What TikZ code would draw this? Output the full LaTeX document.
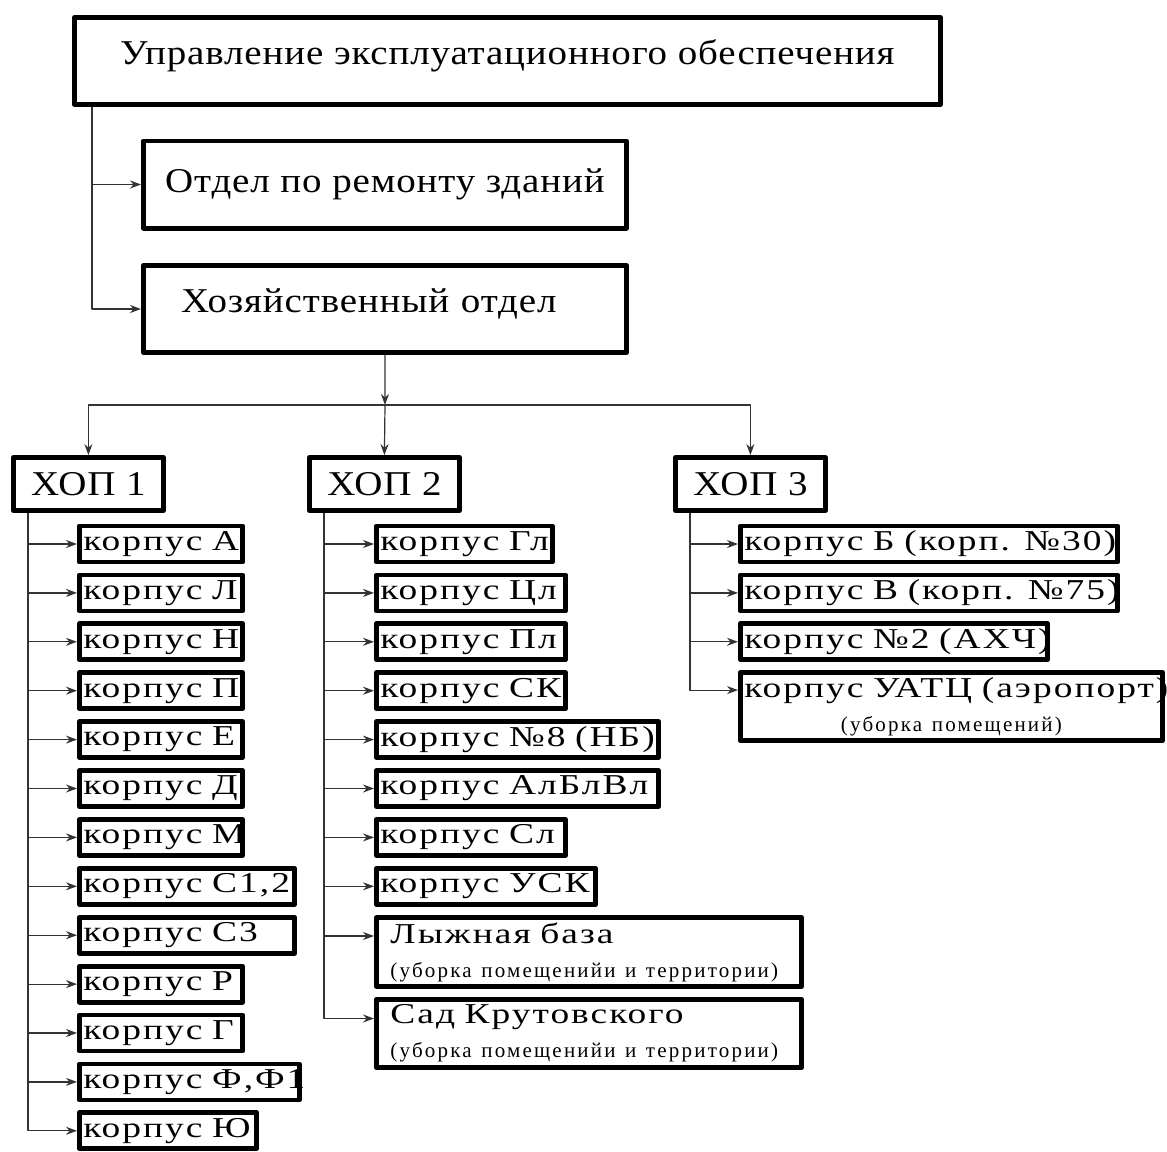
\documentclass[tikz,border=0pt]{standalone}
\usepackage{fontspec}
\usetikzlibrary{arrows.meta}
\setmainfont{Liberation Serif}
\newfontfamily\titfam{Liberation Serif}[FakeStretch=1.12,LetterSpace=2.5]
\newfontfamily\korpfam{Liberation Serif}[FakeStretch=1.3,LetterSpace=7,WordSpace=1.4]
\newfontfamily\notefam{Liberation Serif}[LetterSpace=10.5]
\newcommand\titfont{\titfam\fontsize{17.4}{21}\selectfont}
\newcommand\korpfont{\korpfam\fontsize{14.4}{17}\selectfont}
\newcommand\notefont{\notefam\fontsize{10.5}{12}\selectfont}
\tikzset{
  box/.style={draw,line width=2.4pt,inner sep=2pt,anchor=west},
  head/.style={box,font=\titfont,minimum width=#1,minimum height=43.6pt},
  hop/.style={box,font=\titfont,minimum width=75pt,minimum height=26.5pt},
  korp/.style={box,font=\korpfont,text width=#1-4pt,align=left,minimum height=18pt,
    execute at begin node=\hbox\bgroup,execute at end node=\egroup},
  wide/.style={box,font=\korpfont,text width=#1-14pt,inner xsep=7pt,minimum width=#1,minimum height=34.3pt},
  link/.style={->,line width=0.6pt,black!80}
}
\begin{document}
\begin{tikzpicture}[>={Stealth[length=5.5pt,width=4pt]},line join=round,x=0.5pt,y=-0.5pt]
  \useasboundingbox (0,0) rectangle (1167,1151);
  % verkhnie otdely
  \node[head=433pt,text height=12pt,text depth=9pt] (upr) at (72,61) {Управление эксплуатационного обеспечения};
  \node[head=241.5pt] (otd) at (141,184.5) {Отдел по ремонту зданий};
  \node[head=241.5pt,text height=12pt,text depth=9pt,inner xsep=18.8pt,text width=203.9pt,align=left] (hoz) at (141,309) {Хозяйственный отдел};
  \draw[link] ([xshift=10pt]upr.south west) |- (otd.west);
  \draw[link] ([xshift=10pt]upr.south west) |- (hoz.west);

  \node[hop] (hop1) at (11,484) {ХОП 1};
  \node[hop] (hop2) at (307,484) {ХОП 2};
  \node[hop] (hop3) at (673,484) {ХОП 3};
  \coordinate (j) at (385,405);
  \draw[link] (hoz.south) -- (j);
  \draw[link] (j) -- (hop2.north);
  \draw[link] (j) -| (hop1.north);
  \draw[link] (j) -| (hop3.north);

  % HOP 1
  \node[korp=81.6pt] (a1) at (77,544) {корпус А};
  \node[korp=81.6pt] (a2) at (77,592.9) {корпус Л};
  \node[korp=81.6pt] (a3) at (77,641.8) {корпус Н};
  \node[korp=81.6pt] (a4) at (77,690.7) {корпус П};
  \node[korp=81.6pt] (a5) at (77,739.6) {корпус Е};
  \node[korp=81.6pt] (a6) at (77,788.5) {корпус Д};
  \node[korp=81.6pt] (a7) at (77,837.4) {корпус М};
  \node[korp=107.6pt] (a8) at (77,886.3) {корпус С1,2};
  \node[korp=107.6pt] (a9) at (77,935.2) {корпус С3};
  \node[korp=81.6pt] (a10) at (77,984.1) {корпус Р};
  \node[korp=81.6pt] (a11) at (77,1033) {корпус Г};
  \node[korp=110pt] (a12) at (77,1081.9) {корпус Ф,Ф1};
  \node[korp=88.6pt] (a13) at (77,1130.8) {корпус Ю};
  \foreach \i in {1,...,13}
    \draw[link] ([xshift=8.5pt]hop1.south west) |- (a\i.west);

  % HOP 2
  \node[korp=88pt] (b1) at (374,544) {корпус Гл};
  \node[korp=94.6pt] (b2) at (374,592.9) {корпус Цл};
  \node[korp=94.6pt] (b3) at (374,641.8) {корпус Пл};
  \node[korp=94.6pt] (b4) at (374,690.7) {корпус СК};
  \node[korp=141pt] (b5) at (374,739.6) {корпус №8 (НБ)};
  \node[korp=141pt] (b6) at (374,788.5) {корпус АлБлВл};
  \node[korp=94.6pt] (b7) at (374,837.4) {корпус Сл};
  \node[korp=109.6pt] (b8) at (374,886.3) {корпус УСК};
  \node[wide=212.6pt,align=left] (lyzh) at (374,952) {Лыжная база\\{\notefont (уборка помещенийи и территории)}};
  \node[wide=212.6pt,align=left] (sad) at (374,1033.5) {Сад Крутовского\\{\notefont (уборка помещенийи и территории)}};
  \foreach \i in {1,...,8}
    \draw[link] ([xshift=8.5pt]hop2.south west) |- (b\i.west);
  \draw[link] ([xshift=8.5pt]hop2.south west) |- ([yshift=8pt]lyzh.west);
  \draw[link] ([xshift=8.5pt]hop2.south west) |- ([yshift=7.5pt]sad.west);

  % HOP 3
  \node[korp=188.6pt] (c1) at (738,544) {корпус Б (корп. №30)};
  \node[korp=188.6pt] (c2) at (738,592.9) {корпус В (корп. №75)};
  \node[korp=153.6pt] (c3) at (738,641.8) {корпус №2 (АХЧ)};
  \node[wide=211pt,text width=207pt,inner xsep=2pt,align=center] (uatc) at (738,706.5) {\mbox{корпус УАТЦ (аэропорт)}\\{\notefont (уборка помещений)}};
  \foreach \i in {1,...,3}
    \draw[link] ([xshift=8.5pt]hop3.south west) |- (c\i.west);
  \draw[link] ([xshift=8.5pt]hop3.south west) |- ([yshift=8.2pt]uatc.west);
\end{tikzpicture}
\end{document}
